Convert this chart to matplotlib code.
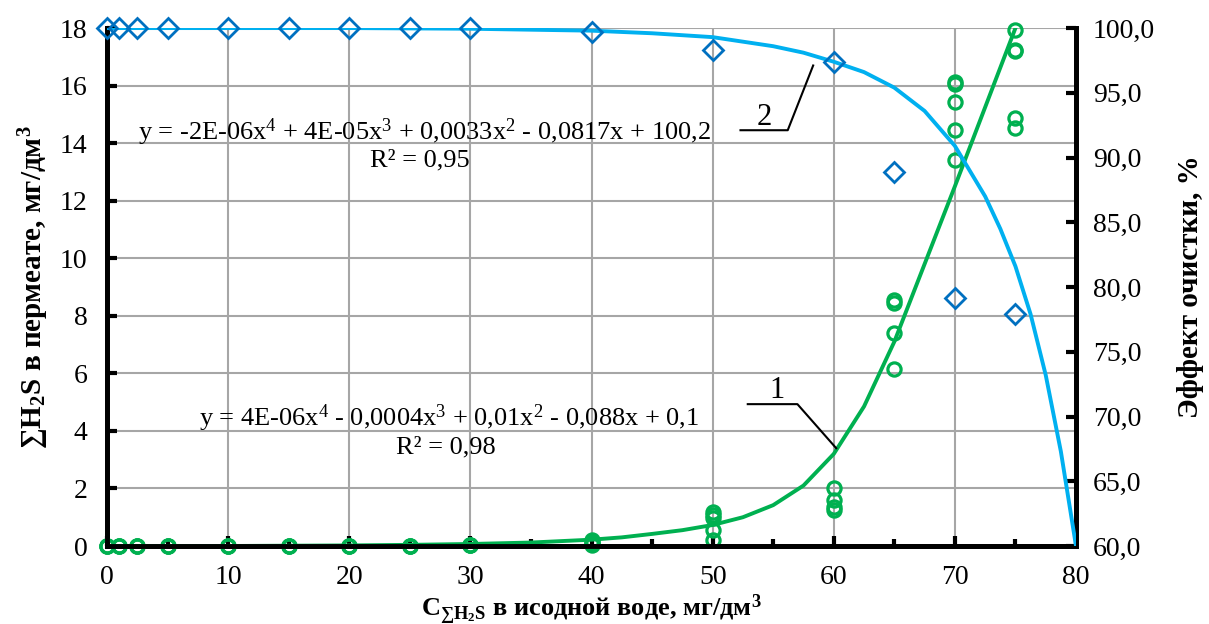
import numpy as np
import matplotlib
matplotlib.use("Agg")
import matplotlib.pyplot as plt
from matplotlib.ticker import MultipleLocator, FuncFormatter

plt.rcParams['font.family'] = ['Liberation Serif', 'DejaVu Serif']
plt.rcParams['mathtext.fontset'] = 'custom'
plt.rcParams['mathtext.rm'] = 'Liberation Serif'
plt.rcParams['mathtext.it'] = 'Liberation Serif:italic'
plt.rcParams['mathtext.bf'] = 'Liberation Serif:bold'

# H2S in permeate, mg/dm3 (left axis), several runs per concentration
h2s_x = [0, 0, 0, 1, 1, 1, 2.5, 2.5, 2.5, 5, 5, 5, 10, 10, 10, 15, 15, 15,
         20, 20, 20, 25, 25, 25, 30, 30, 30, 40, 40, 40, 40,
         50, 50, 50, 50, 50, 60, 60, 60, 60, 65, 65, 65, 65,
         70, 70, 70, 70, 70, 75, 75, 75, 75, 75]
h2s_y = [0, 0, 0, 0, 0, 0, 0, 0, 0, 0, 0, 0, 0, 0, 0, 0, 0, 0,
         0, 0, 0, 0, 0, 0, 0.02, 0.03, 0.05, 0.02, 0.08, 0.15, 0.22,
         1.18, 1.08, 0.97, 0.56, 0.21, 2.02, 1.6, 1.35, 1.25, 8.55, 8.44, 7.4, 6.15,
         16.12, 16.05, 15.43, 14.45, 13.41, 17.95, 17.25, 17.2, 14.87, 14.52]

# cleaning effect, % (right axis)
eff_x = [0, 1, 2.5, 5, 10, 15, 20, 25, 30, 40, 50, 60, 65, 70, 75]
eff_y = [100, 100, 100, 100, 100, 100, 100, 100, 100, 99.7, 98.3, 97.4, 88.9, 79.15, 77.9]

# trendlines (curves 1 and 2)
trend1_x = [0, 10, 20, 25, 30, 35, 40, 42.5, 45, 47.5, 50, 52.5, 55, 57.5, 60,
            62.5, 65, 67.5, 70, 72.5, 75]
trend1_y = [0, 0, 0.02, 0.04, 0.07, 0.12, 0.22, 0.3, 0.42, 0.55, 0.73, 1.0, 1.42, 2.1, 3.2,
            4.85, 7.1, 9.8, 12.5, 15.25, 18.0]
trend2_x = [0, 10, 20, 30, 40, 45, 50, 55, 57.5, 60, 62.5, 65, 67.5, 70, 72.5,
            73.75, 75, 76.25, 77.5, 78.75, 80]
trend2_y = [100, 100, 100, 99.95, 99.8, 99.6, 99.3, 98.6, 98.1, 97.4, 96.6, 95.4, 93.6,
            90.9, 87.0, 84.5, 81.6, 77.9, 73.2, 67.3, 60]

eq1 = "y = 4E-06x$^{4}$ - 0,0004x$^{3}$ + 0,01x$^{2}$ - 0,088x + 0,1"
r1 = "R² = 0,98"
eq2 = "y = -2E-06x$^{4}$ + 4E-05x$^{3}$ + 0,0033x$^{2}$ - 0,0817x + 100,2"
r2 = "R² = 0,95"

green = "#00B050"
cyan = "#00B0F0"
blue = "#0070C0"

fig = plt.figure(figsize=(12.09, 6.24), dpi=100)
ax = fig.add_axes([0.0885, 0.125, 0.8015, 0.830])
ax2 = ax.twinx()

ax.plot(trend1_x, trend1_y, color=green, lw=2.8, zorder=3, solid_joinstyle='round')
ax.plot(h2s_x, h2s_y, 'o', ms=9.5, mfc='none', mec=green, mew=2.3, zorder=4, clip_on=False)

ax2.plot(trend2_x, trend2_y, color=cyan, lw=2.8, zorder=3, solid_joinstyle='round')
ax2.plot(eff_x, eff_y, 'D', ms=10, mfc='none', mec=blue, mew=2, zorder=4, clip_on=False)

ax.set_xlim(0, 80)
ax.set_ylim(0, 18)
ax2.set_ylim(60, 100)
ax.xaxis.set_major_locator(MultipleLocator(10))
ax.xaxis.set_minor_locator(MultipleLocator(5))
ax.yaxis.set_major_locator(MultipleLocator(2))
ax2.yaxis.set_major_locator(MultipleLocator(5))
ax2.yaxis.set_major_formatter(FuncFormatter(lambda v, p: ("%.1f" % v).replace(".", ",")))

ax.grid(True, which='major', color='#A6A6A6', lw=1.5)
ax.set_axisbelow(True)

for a in (ax, ax2):
    a.spines['top'].set_visible(False)
    for s in ('left', 'right', 'bottom'):
        a.spines[s].set_linewidth(3.5)
ax.tick_params(axis='both', which='major', direction='in', length=7, width=3,
               labelsize=20)
ax.tick_params(axis='y', pad=14)
ax.tick_params(axis='x', which='minor', direction='in', length=5, width=3)
ax.tick_params(axis='x', pad=14)
ax2.tick_params(axis='y', direction='in', length=7, width=3, labelsize=20, pad=12)

ax.set_ylabel("∑H$_\\mathbf{2}$S в пермеате, мг/дм$^\\mathbf{3}$", fontsize=21,
              fontweight='bold')
ax.yaxis.set_label_coords(-0.058, 0.5)
ax2.set_ylabel("Эффект очистки, %", fontsize=21, fontweight='bold', labelpad=16)
ax.set_xlabel("С$_{\\mathbf{∑H_2S}}$ в исодной воде, мг/дм$^\\mathbf{3}$", fontsize=19,
              fontweight='bold')
ax.xaxis.set_label_coords(0.5, -0.089)

ax.text(26.2, 14.38, eq2, fontsize=19, ha='center', va='center')
ax.text(25.8, 13.4, r2, fontsize=19, ha='center', va='center')
ax.text(28.2, 4.45, eq1, fontsize=19, ha='center', va='center')
ax.text(28.0, 3.44, r1, fontsize=19, ha='center', va='center')

# leader lines for curve numbers
ax.plot([52.3, 56.2, 58.3], [14.45, 14.45, 16.7], color='black', lw=1.5, zorder=5)
ax.text(54.3, 14.9, "2", fontsize=22, ha='center', va='center')
ax.plot([52.9, 57.0, 60.2], [4.93, 4.93, 3.4], color='black', lw=1.5, zorder=5)
ax.text(55.3, 5.4, "1", fontsize=22, ha='center', va='center')

fig.savefig("out.png", dpi=100)
